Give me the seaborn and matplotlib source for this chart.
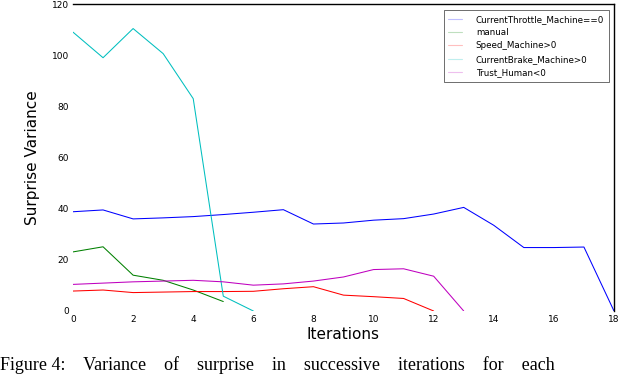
import numpy as np
import pandas as pd
import matplotlib
matplotlib.use("Agg")
import matplotlib.pyplot as plt
import seaborn as sns

# ---------------------------------------------------------
# Data
# ---------------------------------------------------------
throttle_machine = [38.8, 39.5, 36.0, 36.4, 36.9, 37.7, 38.6, 39.6, 34.0, 34.4,
                    35.5, 36.1, 37.9, 40.5, 33.5, 24.8, 24.8, 25.0, 0.0]
manual = [23.1, 25.1, 14.0, 12.0, 8.2, 3.7]
speed_machine = [7.8, 8.2, 7.2, 7.4, 7.6, 7.6, 7.7, 8.7, 9.5, 6.2, 5.6, 4.9, 0.0]
brake_machine = [109.0, 99.0, 110.4, 100.6, 83.0, 5.8, 0.0]
trust_human = [10.4, 10.9, 11.4, 11.7, 12.0, 11.4, 10.1, 10.6, 11.7, 13.3,
               16.2, 16.5, 13.6, 0.0]

series_names = ["CurrentThrottle_Machine==0", "manual", "Speed_Machine>0",
                "CurrentBrake_Machine>0", "Trust_Human<0"]
series_values = [throttle_machine, manual, speed_machine, brake_machine, trust_human]
series_colors = ["#0000ff", "#008000", "#ff0000", "#00bfbf", "#bf00bf"]

x_ticks = list(range(0, 19, 2))
y_ticks = list(range(0, 121, 20))

caption = "Figure 4:    Variance    of    surprise    in    successive    iterations    for    each"

rows = []
for name, vals in zip(series_names, series_values):
    for i, v in enumerate(vals):
        rows.append({"Iterations": i, "value": v, "series": name})
df = pd.DataFrame(rows)

# ---------------------------------------------------------
# Plot
# ---------------------------------------------------------
sns.set_style("white")
plt.rcParams["font.family"] = ["DejaVu Sans"]
plt.rcParams["text.color"] = "black"
plt.rcParams["axes.labelcolor"] = "black"

fig = plt.figure(figsize=(6.34, 3.74), dpi=100)
ax = fig.add_axes([73 / 634, 63 / 374, 541 / 634, 307 / 374])

sns.lineplot(data=df, x="Iterations", y="value", hue="series",
             hue_order=series_names, palette=dict(zip(series_names, series_colors)),
             linewidth=0.75, ax=ax, legend=False)

ax.set_xlim(0, 18)
ax.set_ylim(0, 120)
ax.set_xticks(x_ticks)
ax.set_yticks(y_ticks)
ax.tick_params(axis="both", direction="in", length=3, width=0.5,
               labelsize=6.5, pad=3, color="#cccccc", labelcolor="black")
ax.set_xlabel("Iterations", fontsize=11, labelpad=2)
ax.set_ylabel("Surprise Variance", fontsize=11, labelpad=8)

for side in ["left", "bottom"]:
    ax.spines[side].set_visible(False)
for side in ["top", "right"]:
    ax.spines[side].set_visible(True)
    ax.spines[side].set_color("black")
    ax.spines[side].set_linewidth(1.0)

# faint legend handles, as in the reference
handles = [plt.Line2D([], [], color=c, lw=0.8, alpha=0.25) for c in series_colors]
leg = fig.legend(handles, series_names, loc="upper right",
                 bbox_to_anchor=(613 / 634, 1 - 6 / 374), fontsize=6.3,
                 frameon=True, fancybox=False, handlelength=1.6,
                 borderpad=0.5, labelspacing=0.5, handletextpad=1.6)
leg.get_frame().set_edgecolor("black")
leg.get_frame().set_linewidth(0.5)

# caption of the paper, sitting on the bottom edge
fig.text(0.0, 0.0, caption, fontsize=13, family="Liberation Serif",
         ha="left", va="bottom")

fig.savefig("out.png", dpi=100)
